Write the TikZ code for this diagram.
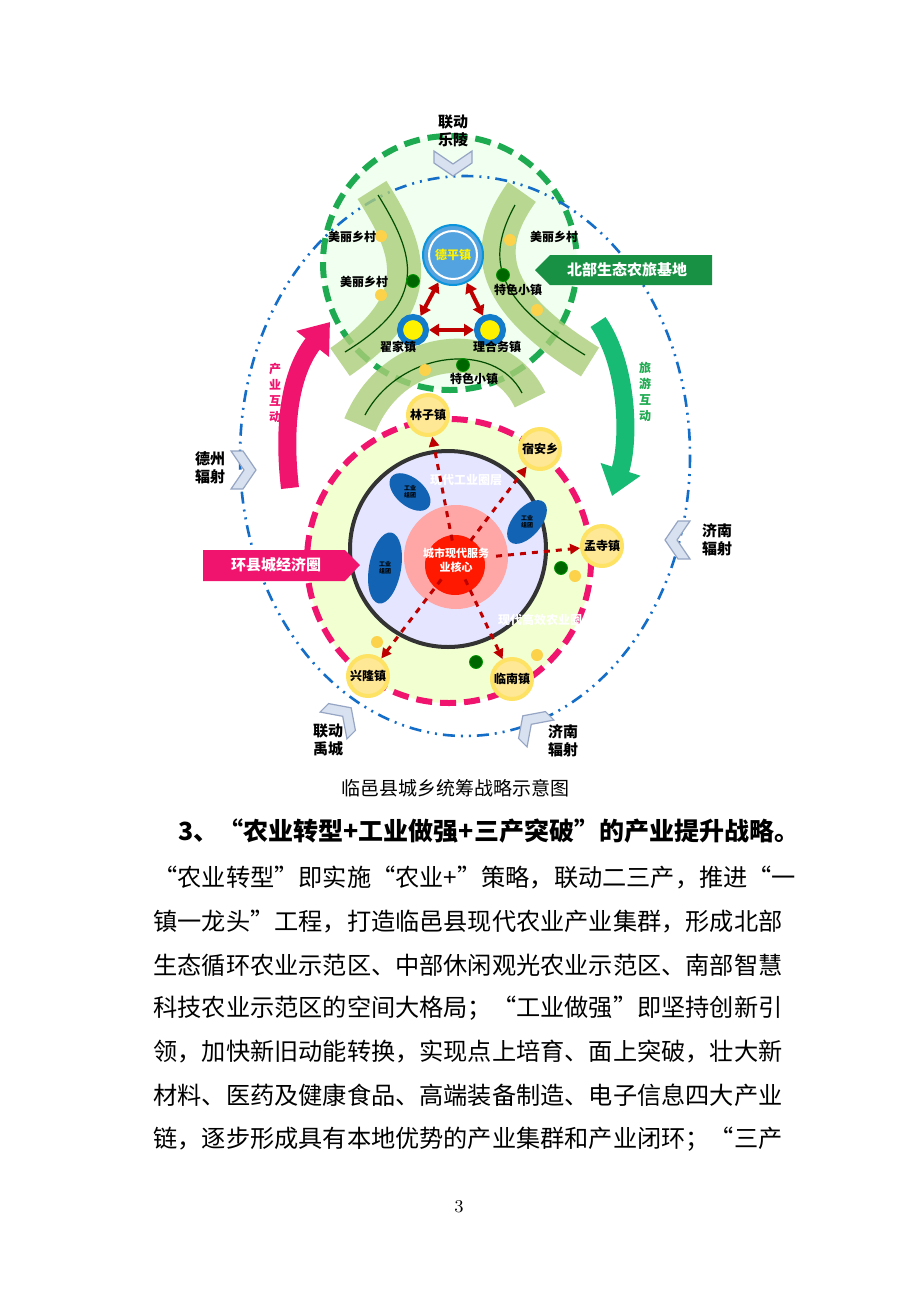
\documentclass[tikz,border=0pt]{standalone}
\usepackage{fontspec}
\newfontfamily\cjk{Noto Sans CJK SC}
\usetikzlibrary{arrows.meta}
\definecolor{ringgreen}{RGB}{30,170,80}
\definecolor{ringpink}{RGB}{240,20,110}
\definecolor{ringblue}{RGB}{20,110,200}
\definecolor{bandgreen}{RGB}{170,205,120}
\definecolor{chevfill}{RGB}{215,225,240}
\definecolor{chevdraw}{RGB}{150,165,195}
\tikzset{
  lbl/.style={font=\cjk\bfseries\fontsize{6}{7}\selectfont},
  side/.style={font=\cjk\bfseries\fontsize{7.5}{9}\selectfont, align=left},
  town/.style={circle, fill=yellow!60!orange!40, draw=yellow!70!orange!60, line width=2pt, minimum size=20pt, inner sep=0pt},
  band/.style={bandgreen, opacity=0.8, line width=17pt},
  bandline/.style={green!30!black, line width=0.6pt},
  ydot/.style={circle, fill=yellow!55!orange!70, minimum size=6pt, inner sep=0pt},
  gdot/.style={circle, fill=green!40!black, draw=green!60!black, minimum size=6.5pt, inner sep=0pt},
  radial/.style={red!75!black, dashed, line width=1.5pt, -{Triangle[length=5pt,width=5pt]}},
  link/.style={red!75!black, line width=2pt, {Triangle[length=5pt,width=6pt]}-{Triangle[length=5pt,width=6pt]}},
  blob/.style={fill=ringblue!90!black},
  bodyline/.style={anchor=west, font=\cjk\fontsize{12.1}{14}\selectfont, inner sep=0pt},
  chev/.pic={\fill[chevfill, draw=chevdraw, line width=0.6pt] (-12,-19) -- (0,-19) -- (13,0) -- (0,19) -- (-12,19) -- (1,0) -- cycle;}
}
\begin{document}
\begin{tikzpicture}[x=0.5pt,y=-0.5pt]
\useasboundingbox[fill=white] (0,0) rectangle (920,1302);
% north circle
\fill[green!6] (450,263) circle (127);
\draw[ringgreen, line width=3pt, dash pattern=on 8pt off 4pt] (450,263) circle (127);
% south circle
\fill[green!30!yellow!18] (449,561) circle (142);
\draw[ringpink, line width=3pt, dash pattern=on 8pt off 4pt] (449,561) circle (142);
\fill[blue!10] (448,549) circle (98);
\draw[gray!40!black, line width=2pt] (448,549) circle (98);
\fill[red!35] (456,557) circle (52);
\fill[red!80!orange] (455,565) circle (30);
% outer radiation ring
\draw[ringblue, line width=1.3pt, dash pattern=on 6pt off 3pt on 1pt off 3pt on 1pt off 3pt] (465,456) ellipse [x radius=225, y radius=280];
% green bands
\draw[band] (372,190) .. controls (410,250) and (430,300) .. (340,362);
\draw[bandline] (378,195) .. controls (415,255) and (430,300) .. (345,352);
\draw[band] (522,192) .. controls (480,250) and (490,300) .. (590,362);
\draw[bandline] (515,205) .. controls (485,260) and (495,300) .. (585,355);
\draw[band] (360,425) .. controls (395,340) and (500,335) .. (530,400);
\draw[bandline] (365,415) .. controls (400,350) and (495,340) .. (522,393);
% industrial blobs
\fill[blob, rotate around={-40:(410,492)}] (410,492) ellipse [x radius=24, y radius=14];
\fill[blob, rotate around={50:(527,522)}] (527,522) ellipse [x radius=26, y radius=14];
\fill[blob, rotate around={-10:(385,568)}] (385,568) ellipse [x radius=16, y radius=36];
\node[font=\cjk\bfseries\fontsize{3}{3.5}\selectfont, align=center] (ind1) at (410,492) {工业\\组团};
\node[font=\cjk\bfseries\fontsize{3}{3.5}\selectfont, align=center] (ind2) at (527,522) {工业\\组团};
\node[font=\cjk\bfseries\fontsize{3}{3.5}\selectfont, align=center] (ind3) at (385,568) {工业\\组团};
\node[lbl, white] (ringind) at (466,480) {现代工业圈层};
\node[lbl, white] (ringagr) at (540,620) {现代高效农业圈};
% core
\node[font=\cjk\bfseries\fontsize{5.5}{7}\selectfont, white, align=center] (core) at (456,560) {城市现代服务\\业核心};
% southern towns
\node[town] (linzi) at (428,415) {}; \node[lbl] at (linzi) {林子镇};
\node[town] (suan) at (540,449) {}; \node[lbl] at (suan) {宿安乡};
\node[town] (mengsi) at (602,546) {}; \node[lbl] at (mengsi) {孟寺镇};
\node[town] (xinglong) at (368,676) {}; \node[lbl] at (xinglong) {兴隆镇};
\node[town] (linnan) at (512,679) {}; \node[lbl] at (linnan) {临南镇};
\foreach \t in {linzi,suan,mengsi,xinglong,linnan}
  \draw[radial] (core) -- (\t);
% northern towns
\node[circle, fill=cyan!70!blue!70, draw=cyan!80!blue, line width=1pt, minimum size=30pt] (deping) at (453,255) {};
\draw[white, line width=1pt] (deping) circle (24);
\node[font=\cjk\bfseries\fontsize{6}{7}\selectfont, yellow] at (deping) {德平镇};
\node[circle, fill=yellow, draw=cyan!60!blue, line width=3pt, minimum size=13pt, inner sep=0pt] (zhaijia) at (413,330) {};
\node[circle, fill=yellow, draw=cyan!60!blue, line width=3pt, minimum size=13pt, inner sep=0pt] (lihewu) at (490,330) {};
\draw[link] (deping) -- (zhaijia);
\draw[link] (deping) -- (lihewu);
\draw[link] (zhaijia) -- (lihewu);
\node[lbl] at (398,347) {翟家镇};
\node[lbl] at (497,347) {理合务镇};
% dots
\foreach \p in {(381,236),(381,295),(510,240),(537,310),(425,370),(575,576),(377,642),(537,655)}
  \node[ydot] at \p {};
\foreach \p in {(413,281),(503,275),(463,365),(561,568),(476,662)}
  \node[gdot] at \p {};
\node[lbl] at (352,237) {美丽乡村};
\node[lbl] at (364,282) {美丽乡村};
\node[lbl] at (554,237) {美丽乡村};
\node[lbl] at (518,290) {特色小镇};
\node[lbl] at (474,379) {特色小镇};
% interaction arrows
\draw[ringpink, line width=9pt, -{Triangle[length=14pt,width=20pt]}] (290,488) .. controls (282,420) and (292,370) .. (330,322);
\draw[ringgreen!80!cyan, line width=9pt, -{Triangle[length=14pt,width=20pt]}] (598,322) .. controls (628,365) and (630,440) .. (612,496);
\node[font=\cjk\bfseries\fontsize{6}{8}\selectfont, ringpink, align=center] (indmove) at (275,393) {产\\业\\互\\动};
\node[font=\cjk\bfseries\fontsize{6}{8}\selectfont, ringgreen, align=center] (tourmove) at (645,392) {旅\\游\\互\\动};
% banners
\fill[ringgreen!85!black] (535,270) -- (550,255) -- (712,255) -- (712,285) -- (550,285) -- cycle;
\node[font=\cjk\bfseries\fontsize{7.5}{9}\selectfont, white] (north) at (627,270) {北部生态农旅基地};
\fill[ringpink] (203,550) -- (345,550) -- (360,565) -- (345,581) -- (203,581) -- cycle;
\node[font=\cjk\bfseries\fontsize{7.5}{9}\selectfont, white] (ring) at (276,565) {环县城经济圈};
% radiation chevrons
\pic[rotate=-90] at (453,163) {chev};
\pic at (243,470) {chev};
\pic[rotate=180] at (678,540) {chev};
\pic[rotate=45] at (342,717) {chev};
\pic[rotate=135] at (532,725) {chev};
\node[side, align=center] (leling) at (453,131) {联动\\乐陵};
\node[side] (dezhou) at (210,468) {德州\\辐射};
\node[side] (jinan1) at (717,540) {济南\\辐射};
\node[side] (yucheng) at (328,740) {联动\\禹城};
\node[side] (jinan2) at (563,741) {济南\\辐射};
% caption and text
\node[font=\cjk\fontsize{9.5}{11}\selectfont] (caption) at (455,788) {临邑县城乡统筹战略示意图};
\node[bodyline, font=\cjk\bfseries\fontsize{12.5}{14}\selectfont] (h) at (178,831) {3、“农业转型+工业做强+三产突破”的产业提升战略。};
\node[bodyline] (l1) at (153,878) {“农业转型”即实施“农业+”策略，联动二三产，推进“一};
\node[bodyline] (l2) at (153,922) {镇一龙头”工程，打造临邑县现代农业产业集群，形成北部};
\node[bodyline] (l3) at (153,965) {生态循环农业示范区、中部休闲观光农业示范区、南部智慧};
\node[bodyline] (l4) at (153,1008) {科技农业示范区的空间大格局；“工业做强”即坚持创新引};
\node[bodyline] (l5) at (153,1052) {领，加快新旧动能转换，实现点上培育、面上突破，壮大新};
\node[bodyline] (l6) at (153,1095) {材料、医药及健康食品、高端装备制造、电子信息四大产业};
\node[bodyline] (l7) at (153,1139) {链，逐步形成具有本地优势的产业集群和产业闭环；“三产};
\node[font=\fontsize{9}{10}\selectfont] (page) at (459,1207) {3};
\end{tikzpicture}
\end{document}
